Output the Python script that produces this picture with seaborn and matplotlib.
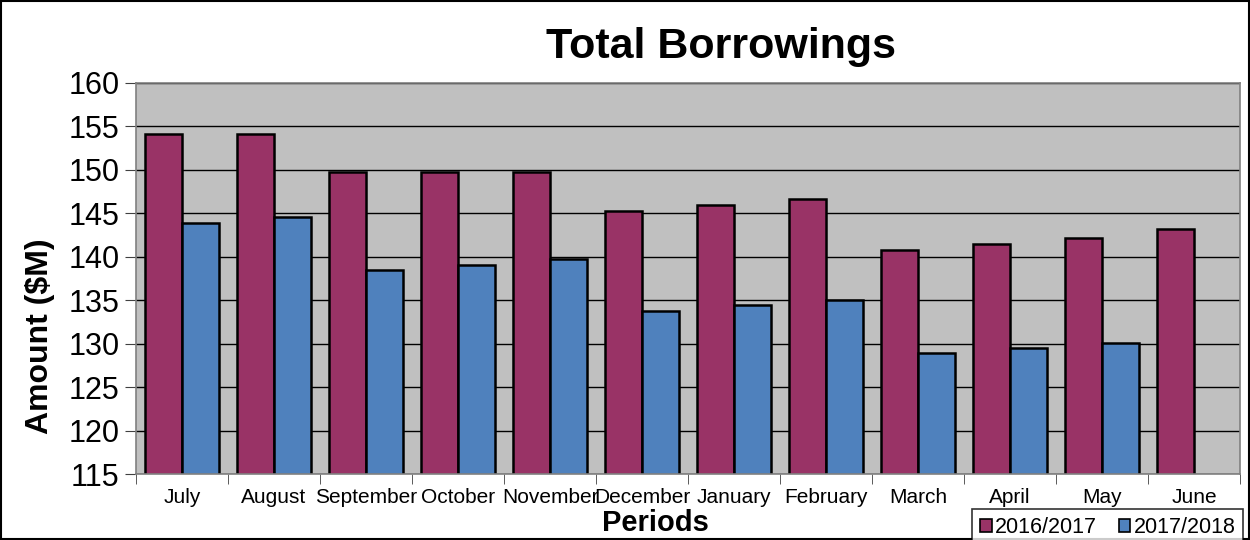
import pandas as pd
import matplotlib.pyplot as plt
import matplotlib.patches as mpatches
import numpy as np
import seaborn as sns

sns.set_style("ticks")
plt.rcParams['font.family'] = ['Liberation Sans', 'DejaVu Sans']
plt.rcParams['text.color'] = 'black'
plt.rcParams['xtick.labelcolor'] = 'black'
plt.rcParams['ytick.labelcolor'] = 'black'

# Data
periods = ['July', 'August', 'September', 'October', 'November', 'December',
           'January', 'February', 'March', 'April', 'May', 'June']
fy_2016_17 = [154.1, 154.1, 149.8, 149.8, 149.8, 145.3, 146.0, 146.6, 140.8, 141.5, 142.2, 143.2]
fy_2017_18 = [143.9, 144.6, 138.5, 139.1, 139.8, 133.8, 134.4, 135.0, 128.9, 129.5, 130.1, np.nan]
series_names = ['2016/2017', '2017/2018']
colors = ['#993366', '#4F81BD']

df = pd.DataFrame({
    'Period': periods * 2,
    'Amount': fy_2016_17 + fy_2017_18,
    'Year': [series_names[0]] * len(periods) + [series_names[1]] * len(periods),
})

fig = plt.figure(figsize=(12.5, 5.4), dpi=100)
ax = fig.add_axes([0.1088, 0.1222, 0.8832, 0.7241])
ax.set_facecolor('#C0C0C0')

sns.barplot(data=df, x='Period', y='Amount', hue='Year', order=periods,
            hue_order=series_names, palette=colors, width=0.8, gap=0,
            edgecolor='black', linewidth=1.8, saturation=1, ax=ax, legend=False)

ax.set_ylim(115, 160)
ax.set_yticks(np.arange(115, 161, 5))
ax.set_xlim(-0.5, len(periods) - 0.5)
ax.yaxis.grid(True, color='black', linewidth=1)
ax.set_axisbelow(True)
ax.tick_params(axis='y', labelsize=22, length=8, color='#404040', pad=4)

# tick marks sit between categories, labels centred under groups
ax.set_xticks(np.arange(len(periods)))
ax.set_xticklabels(periods, fontsize=15)
ax.tick_params(axis='x', which='major', length=0, pad=10)
ax.set_xticks(np.arange(-0.5, len(periods)), minor=True)
ax.tick_params(axis='x', which='minor', length=7, color='#404040')

for side in ['left', 'bottom', 'right', 'top']:
    ax.spines[side].set_visible(True)
    ax.spines[side].set_color('#808080')
    ax.spines[side].set_linewidth(1.2)
ax.set_xlabel('')
ax.set_ylabel('')

fig.text(0.577, 0.913, 'Total Borrowings', fontsize=31, fontweight='bold', ha='center', va='center')
fig.text(0.524, 0.016, 'Periods', fontsize=21, fontweight='bold', ha='center', va='baseline')
fig.text(0.032, 0.378, 'Amount ($M)', fontsize=23, fontweight='bold', ha='center', va='center', rotation=90)

handles = [mpatches.Patch(facecolor=c, edgecolor='black', linewidth=1.2) for c in colors]
leg = fig.legend(handles, series_names, loc='lower right', bbox_to_anchor=(1.003, -0.03),
                 ncol=2, fontsize=15.5, frameon=True, fancybox=False, handlelength=0.55,
                 handleheight=0.55, handletextpad=0.15, columnspacing=1.0, borderpad=0.35)
leg.get_frame().set_edgecolor('black')
leg.get_frame().set_linewidth(1.2)

fig.patches.append(mpatches.Rectangle((0.001, 0.001), 0.998, 0.997, transform=fig.transFigure,
                                      fill=False, edgecolor='black', linewidth=1.5))

plt.savefig('out.png', dpi=100)
plt.close()
